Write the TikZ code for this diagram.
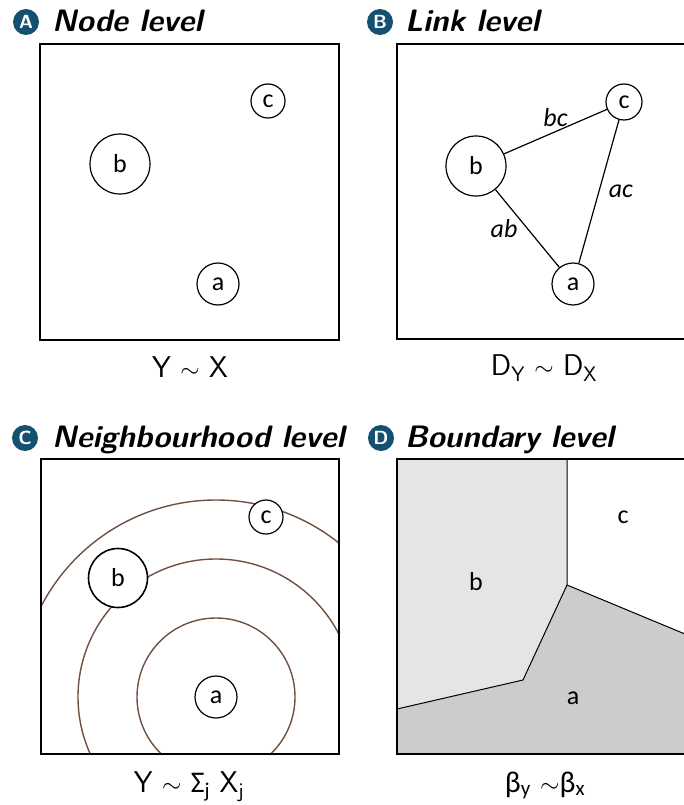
\documentclass[tikz,border=0pt]{standalone}
\usepackage{fontspec}
\newfontfamily\lblfont{Carlito}
\usetikzlibrary{positioning}
\definecolor{badgeblue}{RGB}{22,80,112}
\definecolor{ringbrown}{RGB}{112,80,64}

\begin{document}
\begin{tikzpicture}[x=1pt, y=-1pt,
    every node/.style={font=\lblfont\fontsize{26}{30}\selectfont},
    panel/.style={line width=1.6pt},
    pt/.style={circle, draw, line width=1.2pt, fill=white, inner sep=0pt},
    badge/.style={circle, fill=badgeblue, text=white, inner sep=0pt, minimum size=26pt,
      font=\sffamily\bfseries\fontsize{19}{19}\selectfont},
    heading/.style={anchor=base west, inner sep=0pt,
      font=\sffamily\bfseries\slshape\fontsize{31}{32}\selectfont},
    formula/.style={anchor=base, inner sep=0pt, font=\sffamily\fontsize{30}{31}\selectfont},
    edge/.style={line width=1.2pt},
    ring/.style={draw=ringbrown, line width=1.4pt}]
    \useasboundingbox (0,0) rectangle (683,805);

    % Panel A: node level
    \draw[panel] (40,44) rectangle (339,340);
    \node[pt, minimum size=34pt] (nc) at (268,101) {c};
    \node[pt, minimum size=60pt] (nb) at (120,164) {b};
    \node[pt, minimum size=42pt] (na) at (218,284) {a};
    \node[badge] (badgeA) at (26,22) {A};
    \node[heading] (headA) at (52,32) {Node level};
    \node[formula] (formA) at (190,377) {Y $\sim$ X};

    % Panel B: link level
    \draw[panel] (397,44) rectangle (697,339);
    \node[pt, minimum size=36pt] (lc) at (624,102) {c};
    \node[pt, minimum size=60pt] (lb) at (476,166) {b};
    \node[pt, minimum size=42pt] (la) at (573,284) {a};
    \draw[edge] (lb) -- (lc) node[midway, above=1pt] {\itshape bc};
    \draw[edge] (la) -- (lc) node[midway, right=6pt] {\itshape ac};
    \draw[edge] (la) -- (lb) node[midway, left=6pt] {\itshape ab};
    \node[badge] (badgeB) at (380,22) {B};
    \node[heading] (headB) at (405,32) {Link level};
    \node[formula] (formB) at (544,375) {D\textsubscript{Y} $\sim$ D\textsubscript{X}};

    % Panel C: neighbourhood level
    \coordinate (ringc) at (216,697);
    \begin{scope}
      \clip (41,459) rectangle (339,754);
      \draw[ring] (ringc) circle (79pt);
      \draw[ring] (ringc) circle (138pt);
      \draw[ring] (ringc) circle (197pt);
    \end{scope}
    \draw[panel] (41,459) rectangle (339,754);
    \node[pt, minimum size=34pt] (cc) at (266,517) {c};
    \node[pt, minimum size=59pt, line width=1.6pt] (cb) at (118,578) {b};
    \node[pt, minimum size=42pt] (ca) at (ringc) {a};
    \node[badge] (badgeC) at (25,438) {C};
    \node[heading] (headC) at (52,447) {Neighbourhood level};
    \node[formula] (formC) at (189,792)
      {Y $\sim$ {\lblfont Σ\textsubscript{j}} X\textsubscript{j}};

    % Panel D: boundary level
    \begin{scope}
      \clip (397,459) rectangle (697,754);
      \fill[black!10] (397,459) -- (567,459) -- (567,585) -- (523,680) -- (397,709) -- cycle;
      \fill[black!20] (397,709) -- (523,680) -- (567,585) -- (697,639) -- (697,754) -- (397,754) -- cycle;
      \draw[line width=1pt] (567,459) -- (567,585) -- (697,639);
      \draw[line width=1pt] (567,585) -- (523,680) -- (397,709);
    \end{scope}
    \draw[panel] (397,459) rectangle (697,754);
    \node (dc) at (623,517) {c};
    \node (db) at (476,582) {b};
    \node (da) at (573,698) {a};
    \node[badge] (badgeD) at (381,438) {D};
    \node[heading] (headD) at (405,447) {Boundary level};
    \node[formula] (formD) at (545,792)
      {{\lblfont β\textsubscript{y}} $\sim${\lblfont β\textsubscript{x}}};
\end{tikzpicture}
\end{document}
